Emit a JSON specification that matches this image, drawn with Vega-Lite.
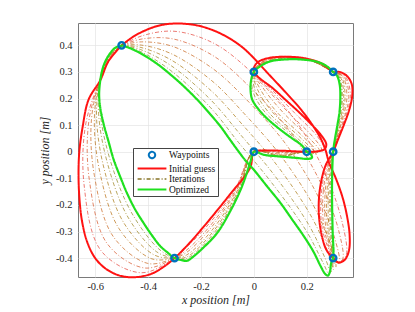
{
"$schema":"https://vega.github.io/schema/vega-lite/v6.json",
"width":275,"height":254,
"autosize":{"type":"none"},
"padding":{"left":78,"top":23,"right":62,"bottom":35},
"background":"white",
"config":{
 "view":{"stroke":"#7a7a7a","strokeWidth":1},
 "axis":{"labelFont":"Liberation Serif, Times New Roman, serif","labelFontSize":10.5,"labelColor":"#262626","titleFont":"Liberation Serif, Times New Roman, serif","titleFontSize":12,"titleFontWeight":"normal","titleFontStyle":"italic","titleColor":"#262626","grid":true,"gridColor":"#e4e4e4","gridWidth":0.7,"domain":false,"ticks":false}
},
"datasets":{
"wp":[{"x":-0.5,"y":0.4},{"x":0,"y":0.3},{"x":0.3,"y":0.3},{"x":0,"y":0},{"x":0.2,"y":0},{"x":0.3,"y":0},{"x":-0.3,"y":-0.4},{"x":0.3,"y":-0.4}],
"red":[{"i":0,"x":-0.5,"y":0.4},{"i":1,"x":-0.46,"y":0.43},{"i":2,"x":-0.42,"y":0.452},{"i":3,"x":-0.36,"y":0.474},{"i":4,"x":-0.3,"y":0.482},{"i":5,"x":-0.22,"y":0.476},{"i":6,"x":-0.15,"y":0.455},{"i":7,"x":-0.09,"y":0.425},{"i":8,"x":-0.04,"y":0.39},{"i":9,"x":0.0,"y":0.352},{"i":10,"x":0.05,"y":0.298},{"i":11,"x":0.114,"y":0.23},{"i":12,"x":0.177,"y":0.16},{"i":13,"x":0.215,"y":0.11},{"i":14,"x":0.25,"y":0.055},{"i":15,"x":0.27,"y":0.01},{"i":16,"x":0.284,"y":-0.04},{"i":17,"x":0.31,"y":-0.1},{"i":18,"x":0.335,"y":-0.17},{"i":19,"x":0.352,"y":-0.24},{"i":20,"x":0.362,"y":-0.31},{"i":21,"x":0.36,"y":-0.37},{"i":22,"x":0.345,"y":-0.405},{"i":23,"x":0.322,"y":-0.417},{"i":24,"x":0.3,"y":-0.4},{"i":25,"x":0.275,"y":-0.37},{"i":26,"x":0.258,"y":-0.32},{"i":27,"x":0.247,"y":-0.25},{"i":28,"x":0.246,"y":-0.18},{"i":29,"x":0.255,"y":-0.11},{"i":30,"x":0.272,"y":-0.05},{"i":31,"x":0.3,"y":0.0},{"i":32,"x":0.318,"y":0.045},{"i":33,"x":0.34,"y":0.1},{"i":34,"x":0.36,"y":0.155},{"i":35,"x":0.372,"y":0.21},{"i":36,"x":0.37,"y":0.255},{"i":37,"x":0.352,"y":0.285},{"i":38,"x":0.325,"y":0.3},{"i":39,"x":0.3,"y":0.3},{"i":40,"x":0.26,"y":0.33},{"i":41,"x":0.2,"y":0.35},{"i":42,"x":0.13,"y":0.357},{"i":43,"x":0.06,"y":0.353},{"i":44,"x":0.02,"y":0.34},{"i":45,"x":0.003,"y":0.322},{"i":46,"x":0.0,"y":0.3},{"i":47,"x":0.02,"y":0.278},{"i":48,"x":0.07,"y":0.24},{"i":49,"x":0.12,"y":0.195},{"i":50,"x":0.18,"y":0.14},{"i":51,"x":0.23,"y":0.09},{"i":52,"x":0.26,"y":0.055},{"i":53,"x":0.274,"y":0.028},{"i":54,"x":0.268,"y":0.01},{"i":55,"x":0.245,"y":0.002},{"i":56,"x":0.2,"y":0.0},{"i":57,"x":0.1,"y":0.004},{"i":58,"x":0.03,"y":0.004},{"i":59,"x":0.0,"y":0.0},{"i":60,"x":-0.012,"y":-0.055},{"i":61,"x":-0.04,"y":-0.1},{"i":62,"x":-0.076,"y":-0.143},{"i":63,"x":-0.13,"y":-0.21},{"i":64,"x":-0.189,"y":-0.281},{"i":65,"x":-0.245,"y":-0.345},{"i":66,"x":-0.3,"y":-0.4},{"i":67,"x":-0.34,"y":-0.432},{"i":68,"x":-0.39,"y":-0.46},{"i":69,"x":-0.454,"y":-0.472},{"i":70,"x":-0.51,"y":-0.465},{"i":71,"x":-0.56,"y":-0.44},{"i":72,"x":-0.6,"y":-0.4},{"i":73,"x":-0.63,"y":-0.34},{"i":74,"x":-0.65,"y":-0.26},{"i":75,"x":-0.66,"y":-0.17},{"i":76,"x":-0.663,"y":-0.08},{"i":77,"x":-0.66,"y":0.0},{"i":78,"x":-0.648,"y":0.09},{"i":79,"x":-0.625,"y":0.196},{"i":80,"x":-0.58,"y":0.27},{"i":81,"x":-0.55,"y":0.34},{"i":82,"x":-0.5,"y":0.4}],
"green":[{"i":0,"x":-0.5,"y":0.4},{"i":1,"x":-0.47,"y":0.39},{"i":2,"x":-0.43,"y":0.371},{"i":3,"x":-0.39,"y":0.347},{"i":4,"x":-0.353,"y":0.321},{"i":5,"x":-0.315,"y":0.29},{"i":6,"x":-0.278,"y":0.258},{"i":7,"x":-0.24,"y":0.222},{"i":8,"x":-0.202,"y":0.183},{"i":9,"x":-0.164,"y":0.14},{"i":10,"x":-0.126,"y":0.095},{"i":11,"x":-0.095,"y":0.052},{"i":12,"x":-0.063,"y":0.008},{"i":13,"x":-0.03,"y":-0.035},{"i":14,"x":0.0,"y":-0.068},{"i":15,"x":0.05,"y":-0.13},{"i":16,"x":0.101,"y":-0.193},{"i":17,"x":0.145,"y":-0.255},{"i":18,"x":0.19,"y":-0.319},{"i":19,"x":0.225,"y":-0.375},{"i":20,"x":0.253,"y":-0.431},{"i":21,"x":0.27,"y":-0.46},{"i":22,"x":0.28,"y":-0.466},{"i":23,"x":0.288,"y":-0.45},{"i":24,"x":0.292,"y":-0.42},{"i":25,"x":0.3,"y":-0.4},{"i":26,"x":0.298,"y":-0.3},{"i":27,"x":0.296,"y":-0.2},{"i":28,"x":0.296,"y":-0.1},{"i":29,"x":0.3,"y":0.0},{"i":30,"x":0.307,"y":0.05},{"i":31,"x":0.316,"y":0.1},{"i":32,"x":0.324,"y":0.15},{"i":33,"x":0.327,"y":0.2},{"i":34,"x":0.325,"y":0.25},{"i":35,"x":0.315,"y":0.285},{"i":36,"x":0.3,"y":0.3},{"i":37,"x":0.275,"y":0.322},{"i":38,"x":0.24,"y":0.338},{"i":39,"x":0.177,"y":0.347},{"i":40,"x":0.12,"y":0.347},{"i":41,"x":0.063,"y":0.34},{"i":42,"x":0.025,"y":0.322},{"i":43,"x":0.0,"y":0.3},{"i":44,"x":-0.01,"y":0.27},{"i":45,"x":-0.0125,"y":0.233},{"i":46,"x":-0.006,"y":0.196},{"i":47,"x":0.019,"y":0.158},{"i":48,"x":0.05,"y":0.125},{"i":49,"x":0.1,"y":0.083},{"i":50,"x":0.145,"y":0.05},{"i":51,"x":0.18,"y":0.025},{"i":52,"x":0.2,"y":0.0},{"i":53,"x":0.215,"y":-0.01},{"i":54,"x":0.22,"y":-0.022},{"i":55,"x":0.205,"y":-0.027},{"i":56,"x":0.17,"y":-0.024},{"i":57,"x":0.1,"y":-0.018},{"i":58,"x":0.04,"y":-0.012},{"i":59,"x":0.0,"y":0.0},{"i":60,"x":-0.012,"y":-0.035},{"i":61,"x":-0.03,"y":-0.09},{"i":62,"x":-0.05,"y":-0.143},{"i":63,"x":-0.09,"y":-0.225},{"i":64,"x":-0.139,"y":-0.306},{"i":65,"x":-0.2,"y":-0.369},{"i":66,"x":-0.23,"y":-0.395},{"i":67,"x":-0.252,"y":-0.41},{"i":68,"x":-0.276,"y":-0.407},{"i":69,"x":-0.3,"y":-0.4},{"i":70,"x":-0.325,"y":-0.38},{"i":71,"x":-0.353,"y":-0.356},{"i":72,"x":-0.385,"y":-0.315},{"i":73,"x":-0.417,"y":-0.268},{"i":74,"x":-0.45,"y":-0.215},{"i":75,"x":-0.48,"y":-0.155},{"i":76,"x":-0.507,"y":-0.09},{"i":77,"x":-0.53,"y":-0.03},{"i":78,"x":-0.55,"y":0.04},{"i":79,"x":-0.567,"y":0.1},{"i":80,"x":-0.58,"y":0.16},{"i":81,"x":-0.585,"y":0.21},{"i":82,"x":-0.583,"y":0.25},{"i":83,"x":-0.575,"y":0.3},{"i":84,"x":-0.563,"y":0.337},{"i":85,"x":-0.545,"y":0.368},{"i":86,"x":-0.525,"y":0.39},{"i":87,"x":-0.5,"y":0.4}],
"iters":[
{"k":1,"i":0,"x":-0.5,"y":0.4},{"k":1,"i":1,"x":-0.422,"y":0.436},{"k":1,"i":2,"x":-0.302,"y":0.453},{"k":1,"i":3,"x":-0.152,"y":0.408},{"k":1,"i":4,"x":-0.009,"y":0.299},{"k":1,"i":5,"x":0.158,"y":0.117},{"k":1,"i":6,"x":0.27,"y":-0.082},{"k":1,"i":7,"x":0.335,"y":-0.269},{"k":1,"i":8,"x":0.348,"y":-0.393},{"k":1,"i":9,"x":0.316,"y":-0.415},{"k":1,"i":10,"x":0.3,"y":-0.4},{"k":1,"i":11,"x":0.261,"y":-0.3},{"k":1,"i":12,"x":0.253,"y":-0.2},{"k":1,"i":13,"x":0.267,"y":-0.083},{"k":1,"i":14,"x":0.3,"y":0},{"k":1,"i":15,"x":0.336,"y":0.1},{"k":1,"i":16,"x":0.365,"y":0.209},{"k":1,"i":17,"x":0.345,"y":0.284},{"k":1,"i":18,"x":0.3,"y":0.3},{"k":1,"i":19,"x":0.2,"y":0.349},{"k":1,"i":20,"x":0.052,"y":0.35},{"k":1,"i":21,"x":0,"y":0.3},{"k":1,"i":22,"x":0.066,"y":0.235},{"k":1,"i":23,"x":0.158,"y":0.142},{"k":1,"i":24,"x":0.242,"y":0.055},{"k":1,"i":25,"x":0.264,"y":0.011},{"k":1,"i":26,"x":0.2,"y":0},{"k":1,"i":27,"x":0.1,"y":0.0},{"k":1,"i":28,"x":0,"y":0},{"k":1,"i":29,"x":-0.072,"y":-0.143},{"k":1,"i":30,"x":-0.182,"y":-0.285},{"k":1,"i":31,"x":-0.259,"y":-0.363},{"k":1,"i":32,"x":-0.3,"y":-0.4},{"k":1,"i":33,"x":-0.427,"y":-0.455},{"k":1,"i":34,"x":-0.578,"y":-0.372},{"k":1,"i":35,"x":-0.642,"y":-0.124},{"k":1,"i":36,"x":-0.635,"y":0.108},{"k":1,"i":37,"x":-0.58,"y":0.272},{"k":1,"i":38,"x":-0.542,"y":0.352},{"k":1,"i":39,"x":-0.5,"y":0.4},
{"k":2,"i":0,"x":-0.5,"y":0.4},{"k":2,"i":1,"x":-0.423,"y":0.424},{"k":2,"i":2,"x":-0.305,"y":0.424},{"k":2,"i":3,"x":-0.154,"y":0.361},{"k":2,"i":4,"x":-0.019,"y":0.247},{"k":2,"i":5,"x":0.139,"y":0.073},{"k":2,"i":6,"x":0.256,"y":-0.124},{"k":2,"i":7,"x":0.321,"y":-0.297},{"k":2,"i":8,"x":0.335,"y":-0.406},{"k":2,"i":9,"x":0.311,"y":-0.416},{"k":2,"i":10,"x":0.3,"y":-0.4},{"k":2,"i":11,"x":0.268,"y":-0.3},{"k":2,"i":12,"x":0.26,"y":-0.2},{"k":2,"i":13,"x":0.272,"y":-0.086},{"k":2,"i":14,"x":0.3,"y":0},{"k":2,"i":15,"x":0.333,"y":0.1},{"k":2,"i":16,"x":0.359,"y":0.207},{"k":2,"i":17,"x":0.34,"y":0.284},{"k":2,"i":18,"x":0.3,"y":0.3},{"k":2,"i":19,"x":0.2,"y":0.349},{"k":2,"i":20,"x":0.054,"y":0.348},{"k":2,"i":21,"x":0,"y":0.3},{"k":2,"i":22,"x":0.052,"y":0.234},{"k":2,"i":23,"x":0.135,"y":0.143},{"k":2,"i":24,"x":0.224,"y":0.055},{"k":2,"i":25,"x":0.256,"y":0.006},{"k":2,"i":26,"x":0.2,"y":0},{"k":2,"i":27,"x":0.1,"y":-0.003},{"k":2,"i":28,"x":0,"y":0},{"k":2,"i":29,"x":-0.068,"y":-0.143},{"k":2,"i":30,"x":-0.174,"y":-0.289},{"k":2,"i":31,"x":-0.257,"y":-0.372},{"k":2,"i":32,"x":-0.3,"y":-0.4},{"k":2,"i":33,"x":-0.414,"y":-0.437},{"k":2,"i":34,"x":-0.555,"y":-0.345},{"k":2,"i":35,"x":-0.622,"y":-0.107},{"k":2,"i":36,"x":-0.624,"y":0.115},{"k":2,"i":37,"x":-0.58,"y":0.273},{"k":2,"i":38,"x":-0.543,"y":0.353},{"k":2,"i":39,"x":-0.5,"y":0.4},
{"k":3,"i":0,"x":-0.5,"y":0.4},{"k":3,"i":1,"x":-0.425,"y":0.413},{"k":3,"i":2,"x":-0.307,"y":0.396},{"k":3,"i":3,"x":-0.156,"y":0.313},{"k":3,"i":4,"x":-0.028,"y":0.196},{"k":3,"i":5,"x":0.12,"y":0.03},{"k":3,"i":6,"x":0.242,"y":-0.166},{"k":3,"i":7,"x":0.306,"y":-0.326},{"k":3,"i":8,"x":0.323,"y":-0.419},{"k":3,"i":9,"x":0.306,"y":-0.416},{"k":3,"i":10,"x":0.3,"y":-0.4},{"k":3,"i":11,"x":0.274,"y":-0.3},{"k":3,"i":12,"x":0.268,"y":-0.2},{"k":3,"i":13,"x":0.277,"y":-0.089},{"k":3,"i":14,"x":0.3,"y":0},{"k":3,"i":15,"x":0.329,"y":0.1},{"k":3,"i":16,"x":0.352,"y":0.205},{"k":3,"i":17,"x":0.336,"y":0.283},{"k":3,"i":18,"x":0.3,"y":0.3},{"k":3,"i":19,"x":0.2,"y":0.348},{"k":3,"i":20,"x":0.056,"y":0.347},{"k":3,"i":21,"x":0,"y":0.3},{"k":3,"i":22,"x":0.039,"y":0.234},{"k":3,"i":23,"x":0.113,"y":0.145},{"k":3,"i":24,"x":0.206,"y":0.055},{"k":3,"i":25,"x":0.248,"y":0.002},{"k":3,"i":26,"x":0.2,"y":0},{"k":3,"i":27,"x":0.1,"y":-0.009},{"k":3,"i":28,"x":0,"y":0},{"k":3,"i":29,"x":-0.064,"y":-0.143},{"k":3,"i":30,"x":-0.167,"y":-0.292},{"k":3,"i":31,"x":-0.256,"y":-0.38},{"k":3,"i":32,"x":-0.3,"y":-0.4},{"k":3,"i":33,"x":-0.401,"y":-0.42},{"k":3,"i":34,"x":-0.533,"y":-0.317},{"k":3,"i":35,"x":-0.603,"y":-0.09},{"k":3,"i":36,"x":-0.614,"y":0.123},{"k":3,"i":37,"x":-0.58,"y":0.275},{"k":3,"i":38,"x":-0.545,"y":0.355},{"k":3,"i":39,"x":-0.5,"y":0.4},
{"k":4,"i":0,"x":-0.5,"y":0.4},{"k":4,"i":1,"x":-0.426,"y":0.401},{"k":4,"i":2,"x":-0.309,"y":0.367},{"k":4,"i":3,"x":-0.158,"y":0.266},{"k":4,"i":4,"x":-0.038,"y":0.145},{"k":4,"i":5,"x":0.101,"y":-0.014},{"k":4,"i":6,"x":0.228,"y":-0.207},{"k":4,"i":7,"x":0.292,"y":-0.355},{"k":4,"i":8,"x":0.311,"y":-0.432},{"k":4,"i":9,"x":0.302,"y":-0.417},{"k":4,"i":10,"x":0.3,"y":-0.4},{"k":4,"i":11,"x":0.28,"y":-0.3},{"k":4,"i":12,"x":0.275,"y":-0.2},{"k":4,"i":13,"x":0.282,"y":-0.092},{"k":4,"i":14,"x":0.3,"y":0},{"k":4,"i":15,"x":0.326,"y":0.1},{"k":4,"i":16,"x":0.345,"y":0.204},{"k":4,"i":17,"x":0.331,"y":0.282},{"k":4,"i":18,"x":0.3,"y":0.3},{"k":4,"i":19,"x":0.2,"y":0.348},{"k":4,"i":20,"x":0.058,"y":0.345},{"k":4,"i":21,"x":0,"y":0.3},{"k":4,"i":22,"x":0.025,"y":0.234},{"k":4,"i":23,"x":0.09,"y":0.146},{"k":4,"i":24,"x":0.188,"y":0.055},{"k":4,"i":25,"x":0.24,"y":-0.003},{"k":4,"i":26,"x":0.2,"y":0},{"k":4,"i":27,"x":0.1,"y":-0.013},{"k":4,"i":28,"x":0,"y":0},{"k":4,"i":29,"x":-0.06,"y":-0.143},{"k":4,"i":30,"x":-0.159,"y":-0.296},{"k":4,"i":31,"x":-0.254,"y":-0.388},{"k":4,"i":32,"x":-0.3,"y":-0.4},{"k":4,"i":33,"x":-0.388,"y":-0.402},{"k":4,"i":34,"x":-0.51,"y":-0.289},{"k":4,"i":35,"x":-0.583,"y":-0.074},{"k":4,"i":36,"x":-0.603,"y":0.13},{"k":4,"i":37,"x":-0.58,"y":0.276},{"k":4,"i":38,"x":-0.546,"y":0.356},{"k":4,"i":39,"x":-0.5,"y":0.4},
{"k":5,"i":0,"x":-0.5,"y":0.4},{"k":5,"i":1,"x":-0.427,"y":0.392},{"k":5,"i":2,"x":-0.311,"y":0.344},{"k":5,"i":3,"x":-0.16,"y":0.228},{"k":5,"i":4,"x":-0.045,"y":0.104},{"k":5,"i":5,"x":0.086,"y":-0.049},{"k":5,"i":6,"x":0.216,"y":-0.241},{"k":5,"i":7,"x":0.28,"y":-0.378},{"k":5,"i":8,"x":0.301,"y":-0.443},{"k":5,"i":9,"x":0.298,"y":-0.417},{"k":5,"i":10,"x":0.3,"y":-0.4},{"k":5,"i":11,"x":0.285,"y":-0.3},{"k":5,"i":12,"x":0.281,"y":-0.2},{"k":5,"i":13,"x":0.286,"y":-0.094},{"k":5,"i":14,"x":0.3,"y":0},{"k":5,"i":15,"x":0.323,"y":0.1},{"k":5,"i":16,"x":0.34,"y":0.203},{"k":5,"i":17,"x":0.327,"y":0.281},{"k":5,"i":18,"x":0.3,"y":0.3},{"k":5,"i":19,"x":0.2,"y":0.347},{"k":5,"i":20,"x":0.059,"y":0.343},{"k":5,"i":21,"x":0,"y":0.3},{"k":5,"i":22,"x":0.014,"y":0.234},{"k":5,"i":23,"x":0.072,"y":0.147},{"k":5,"i":24,"x":0.174,"y":0.055},{"k":5,"i":25,"x":0.233,"y":-0.007},{"k":5,"i":26,"x":0.2,"y":0},{"k":5,"i":27,"x":0.1,"y":-0.015},{"k":5,"i":28,"x":0,"y":0},{"k":5,"i":29,"x":-0.057,"y":-0.143},{"k":5,"i":30,"x":-0.153,"y":-0.299},{"k":5,"i":31,"x":-0.253,"y":-0.395},{"k":5,"i":32,"x":-0.3,"y":-0.4},{"k":5,"i":33,"x":-0.377,"y":-0.388},{"k":5,"i":34,"x":-0.492,"y":-0.267},{"k":5,"i":35,"x":-0.567,"y":-0.061},{"k":5,"i":36,"x":-0.595,"y":0.136},{"k":5,"i":37,"x":-0.58,"y":0.277},{"k":5,"i":38,"x":-0.547,"y":0.357},{"k":5,"i":39,"x":-0.5,"y":0.4},
{"k":6,"i":0,"x":-0.5,"y":0.4},{"k":6,"i":1,"x":-0.428,"y":0.384},{"k":6,"i":2,"x":-0.312,"y":0.323},{"k":6,"i":3,"x":-0.162,"y":0.194},{"k":6,"i":4,"x":-0.052,"y":0.066},{"k":6,"i":5,"x":0.072,"y":-0.081},{"k":6,"i":6,"x":0.206,"y":-0.272},{"k":6,"i":7,"x":0.269,"y":-0.399},{"k":6,"i":8,"x":0.292,"y":-0.452},{"k":6,"i":9,"x":0.295,"y":-0.417},{"k":6,"i":10,"x":0.3,"y":-0.4},{"k":6,"i":11,"x":0.29,"y":-0.3},{"k":6,"i":12,"x":0.287,"y":-0.2},{"k":6,"i":13,"x":0.29,"y":-0.097},{"k":6,"i":14,"x":0.3,"y":0},{"k":6,"i":15,"x":0.32,"y":0.1},{"k":6,"i":16,"x":0.335,"y":0.202},{"k":6,"i":17,"x":0.323,"y":0.281},{"k":6,"i":18,"x":0.3,"y":0.3},{"k":6,"i":19,"x":0.2,"y":0.347},{"k":6,"i":20,"x":0.061,"y":0.342},{"k":6,"i":21,"x":0,"y":0.3},{"k":6,"i":22,"x":0.004,"y":0.233},{"k":6,"i":23,"x":0.056,"y":0.148},{"k":6,"i":24,"x":0.16,"y":0.055},{"k":6,"i":25,"x":0.227,"y":-0.01},{"k":6,"i":26,"x":0.2,"y":0},{"k":6,"i":27,"x":0.1,"y":-0.017},{"k":6,"i":28,"x":0,"y":0},{"k":6,"i":29,"x":-0.054,"y":-0.143},{"k":6,"i":30,"x":-0.148,"y":-0.302},{"k":6,"i":31,"x":-0.252,"y":-0.4},{"k":6,"i":32,"x":-0.3,"y":-0.4},{"k":6,"i":33,"x":-0.368,"y":-0.376},{"k":6,"i":34,"x":-0.476,"y":-0.246},{"k":6,"i":35,"x":-0.552,"y":-0.049},{"k":6,"i":36,"x":-0.587,"y":0.142},{"k":6,"i":37,"x":-0.58,"y":0.278},{"k":6,"i":38,"x":-0.548,"y":0.358},{"k":6,"i":39,"x":-0.5,"y":0.4},
{"k":7,"i":0,"x":-0.5,"y":0.4},{"k":7,"i":1,"x":-0.429,"y":0.377},{"k":7,"i":2,"x":-0.314,"y":0.305},{"k":7,"i":3,"x":-0.163,"y":0.165},{"k":7,"i":4,"x":-0.058,"y":0.035},{"k":7,"i":5,"x":0.06,"y":-0.107},{"k":7,"i":6,"x":0.198,"y":-0.297},{"k":7,"i":7,"x":0.261,"y":-0.416},{"k":7,"i":8,"x":0.285,"y":-0.46},{"k":7,"i":9,"x":0.292,"y":-0.418},{"k":7,"i":10,"x":0.3,"y":-0.4},{"k":7,"i":11,"x":0.294,"y":-0.3},{"k":7,"i":12,"x":0.291,"y":-0.2},{"k":7,"i":13,"x":0.293,"y":-0.098},{"k":7,"i":14,"x":0.3,"y":0},{"k":7,"i":15,"x":0.318,"y":0.1},{"k":7,"i":16,"x":0.331,"y":0.201},{"k":7,"i":17,"x":0.321,"y":0.28},{"k":7,"i":18,"x":0.3,"y":0.3},{"k":7,"i":19,"x":0.2,"y":0.346},{"k":7,"i":20,"x":0.062,"y":0.341},{"k":7,"i":21,"x":0,"y":0.3},{"k":7,"i":22,"x":-0.005,"y":0.233},{"k":7,"i":23,"x":0.042,"y":0.149},{"k":7,"i":24,"x":0.15,"y":0.055},{"k":7,"i":25,"x":0.222,"y":-0.013},{"k":7,"i":26,"x":0.2,"y":0},{"k":7,"i":27,"x":0.1,"y":-0.019},{"k":7,"i":28,"x":0,"y":0},{"k":7,"i":29,"x":-0.052,"y":-0.143},{"k":7,"i":30,"x":-0.143,"y":-0.304},{"k":7,"i":31,"x":-0.251,"y":-0.405},{"k":7,"i":32,"x":-0.3,"y":-0.4},{"k":7,"i":33,"x":-0.36,"y":-0.365},{"k":7,"i":34,"x":-0.462,"y":-0.23},{"k":7,"i":35,"x":-0.541,"y":-0.039},{"k":7,"i":36,"x":-0.581,"y":0.146},{"k":7,"i":37,"x":-0.58,"y":0.279},{"k":7,"i":38,"x":-0.549,"y":0.359},{"k":7,"i":39,"x":-0.5,"y":0.4}
]
},
"encoding":{
 "x":{"field":"x","type":"quantitative","scale":{"domain":[-0.665,0.375],"nice":false,"zero":false},"axis":{"title":"x position [m]","values":[-0.6,-0.4,-0.2,0,0.2],"labelExpr":"'' + datum.value","labelPadding":4,"titlePadding":3}},
 "y":{"field":"y","type":"quantitative","scale":{"domain":[-0.471,0.484],"nice":false,"zero":false},"axis":{"title":"y position [m]","values":[-0.4,-0.3,-0.2,-0.1,0,0.1,0.2,0.3,0.4],"labelExpr":"'' + datum.value","labelPadding":6,"titlePadding":4}}
},
"layer":[
 {"data":{"name":"iters"},
  "mark":{"type":"line","interpolate":"catmull-rom","strokeWidth":0.8,"strokeDash":[4,2,1,2],"opacity":0.9},
  "encoding":{"detail":{"field":"k"},"order":{"field":"i"},
   "stroke":{"field":"k","type":"quantitative","scale":{"domain":[1,7],"range":["#e4463c","#8e8a2c"]},"legend":null}}},
 {"data":{"name":"red"},
  "mark":{"type":"line","interpolate":"catmull-rom","strokeWidth":2},
  "encoding":{"order":{"field":"i"},
   "color":{"datum":"Initial guess","type":"nominal","scale":{"domain":["Waypoints","Initial guess","Iterations","Optimized"],"range":["#0072BD","#ff1212","#a3955a","#1fe01f"]},
     "legend":{"orient":"none","legendX":55,"legendY":125,"title":null,"strokeColor":"#444","fillColor":"white","padding":2,"labelFont":"Liberation Serif, Times New Roman, serif","labelFontSize":9.5,"labelColor":"#111","symbolSize":64,"symbolStrokeWidth":2,"symbolOffset":12,"rowPadding":0.5,"labelOffset":12}},
   "strokeDash":{"datum":"Initial guess","type":"nominal","scale":{"domain":["Waypoints","Initial guess","Iterations","Optimized"],"range":[[1,0],[1,0],[4,2,1,2],[1,0]]}}}},
 {"data":{"name":"green"},
  "mark":{"type":"line","interpolate":"catmull-rom","strokeWidth":2.2},
  "encoding":{"order":{"field":"i"},
   "color":{"datum":"Optimized","type":"nominal"},
   "strokeDash":{"datum":"Optimized","type":"nominal"}}},
 {"data":{"name":"wp"},
  "mark":{"type":"point","filled":false,"strokeWidth":2.4,"size":64,"opacity":1},
  "encoding":{
   "color":{"datum":"Waypoints","type":"nominal"},
   "shape":{"datum":"Waypoints","type":"nominal","scale":{"domain":["Waypoints","Initial guess","Iterations","Optimized"],"range":["M-0.8,0A0.8,0.8 0 1,0 0.8,0A0.8,0.8 0 1,0 -0.8,0Z","M-3.6,0H3.6","M-3.6,0H3.6","M-3.6,0H3.6"]}}}}
]
}
